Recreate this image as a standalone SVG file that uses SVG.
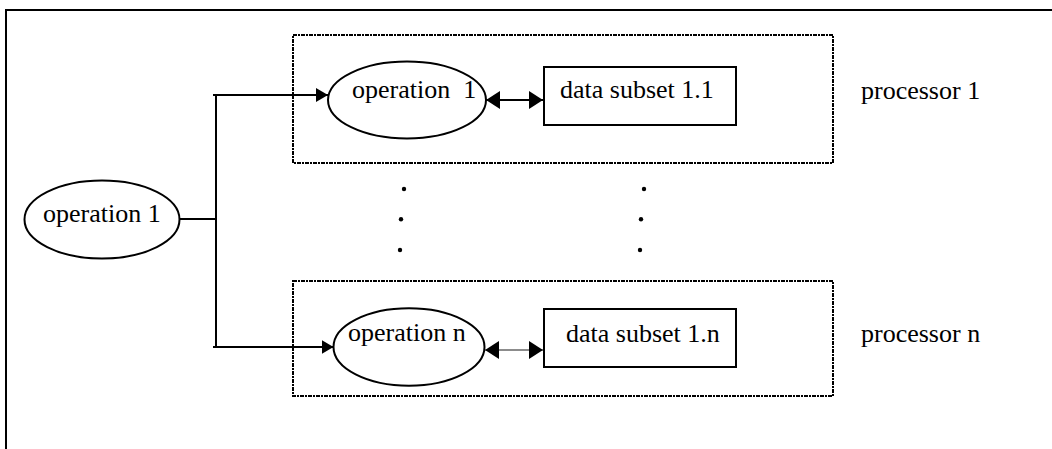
<svg xmlns="http://www.w3.org/2000/svg" width="1052" height="449" viewBox="0 0 1052 449">
<defs>
<style>
text{font-size:26px;fill:#000;white-space:pre}
.ell{fill:#fff;stroke:#000;stroke-width:2}
.box{fill:#fff;stroke:#000;stroke-width:2}
.proc{fill:none;stroke:#000;stroke-width:2;stroke-dasharray:4 1 2 1}
.ln{fill:none;stroke:#000;stroke-width:2}
.dot{fill:#000}
</style>
<marker id="ah" viewBox="0 0 12 14" refX="12" refY="7" markerWidth="12" markerHeight="14" markerUnits="userSpaceOnUse" orient="auto-start-reverse">
<path d="M0,0 L12,7 L0,14 Z" fill="#000"/>
</marker>
<marker id="ah2" viewBox="0 0 14 18" refX="14" refY="9" markerWidth="14" markerHeight="18" markerUnits="userSpaceOnUse" orient="auto-start-reverse">
<path d="M0,0 L14,9 L0,18 Z" fill="#000"/>
</marker>
</defs>
<g id="frame">
<path d="M6,449 L6,10 L1052,10" fill="none" stroke="#000" stroke-width="2"/>
</g>
<g font-family="Liberation Serif, serif">
<g id="processor1">
<rect class="proc" x="293" y="35" width="540" height="128"/>
<text x="861" y="99">processor 1</text>
</g>
<g id="processorn">
<rect class="proc" x="293" y="281" width="540" height="115"/>
<text x="861" y="342">processor n</text>
</g>
<g id="op-left">
<ellipse class="ell" cx="102" cy="219.5" rx="77.5" ry="39"/>
<text x="43" y="221.5">operation 1</text>
</g>
<g id="op1">
<ellipse class="ell" cx="407" cy="100" rx="79" ry="38.5"/>
<text x="352" y="98">operation  1</text>
</g>
<g id="opn">
<ellipse class="ell" cx="409" cy="347" rx="75.5" ry="38.7"/>
<text x="348" y="341">operation n</text>
</g>
<g id="data11">
<rect class="box" x="544" y="67" width="192" height="58"/>
<text x="560" y="97.5">data subset 1.1</text>
</g>
<g id="data1n">
<rect class="box" x="544" y="309" width="192" height="58"/>
<text x="566" y="342">data subset 1.n</text>
</g>
</g>
<g id="connectors">
<path class="ln" d="M180,219 L216,219"/>
<path class="ln" d="M216,95 L216,347"/>
<path class="ln" d="M213,95 L328,95" marker-end="url(#ah)"/>
<path class="ln" d="M213,347 L333.5,347" marker-end="url(#ah)"/>
<path d="M486,100 L543,100" fill="none" stroke="#000" stroke-width="2" marker-start="url(#ah2)" marker-end="url(#ah2)"/>
<path d="M485,350 L543,350" fill="none" stroke="#666" stroke-width="1.5" marker-start="url(#ah2)" marker-end="url(#ah2)"/>
</g>
<g id="ellipsis">
<circle class="dot" cx="404" cy="189" r="2.2"/>
<circle class="dot" cx="401" cy="219.3" r="2.2"/>
<circle class="dot" cx="400" cy="250" r="2.2"/>
<circle class="dot" cx="644" cy="189" r="2.2"/>
<circle class="dot" cx="641" cy="219.3" r="2.2"/>
<circle class="dot" cx="640" cy="250" r="2.2"/>
</g>
</svg>
